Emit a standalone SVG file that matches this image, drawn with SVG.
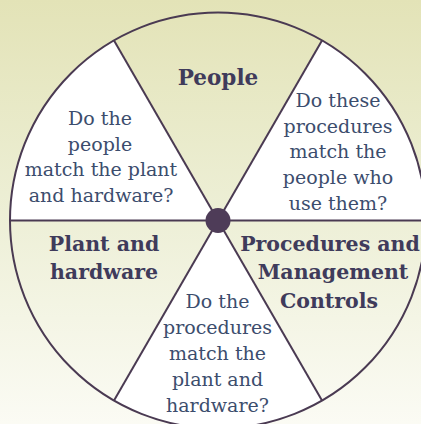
<svg xmlns="http://www.w3.org/2000/svg" width="421" height="424" viewBox="0 0 421 424">
<defs>
<linearGradient id="bg" x1="0" y1="0" x2="0" y2="1">
<stop offset="0" stop-color="#e3e3b7"/>
<stop offset="0.5" stop-color="#edefd6"/>
<stop offset="1" stop-color="#fbfbf4"/>
</linearGradient>
</defs>
<style>
.white{fill:#ffffff;stroke:none}
.rim{fill:none;stroke:#4a3a52;stroke-width:2}
.spoke{stroke:#4a3a52;stroke-width:2;fill:none}
.hub{fill:#4e3c58}
.lbl{font-family:"DejaVu Serif","Liberation Serif",serif;font-weight:bold;font-size:20.5px;fill:#3f3b5b;text-anchor:middle}
.big{font-size:21.5px}
.q{font-family:"DejaVu Serif","Liberation Serif",serif;font-size:19px;fill:#3c4d6d;text-anchor:middle}
</style>
<rect x="0" y="0" width="421" height="424" fill="url(#bg)"/>
<g id="sector-people">
<text class="lbl big" x="218" y="85">People</text>
</g>
<g id="sector-people-plant">
<path class="white" d="M218,220.5 L10,220.5 A208,208 0 0 1 114,40.4 Z"/>
<text class="q" x="100" y="125">Do the</text>
<text class="q" x="100" y="150.7">people</text>
<text class="q" x="101" y="176">match the plant</text>
<text class="q" x="101" y="201.7">and hardware?</text>
</g>
<g id="sector-procedures-people">
<path class="white" d="M218,220.5 L322,40.4 A208,208 0 0 1 426,220.5 Z"/>
<text class="q" x="338" y="106.7">Do these</text>
<text class="q" x="338" y="132.5">procedures</text>
<text class="q" x="338" y="158.3">match the</text>
<text class="q" x="338" y="184.2">people who</text>
<text class="q" x="338" y="210">use them?</text>
</g>
<g id="sector-plant">
<text class="lbl" x="104" y="250.7">Plant and</text>
<text class="lbl" x="104" y="279.3">hardware</text>
</g>
<g id="sector-procedures">
<text class="lbl" x="330" y="250.7">Procedures and</text>
<text class="lbl" x="333" y="279.3">Management</text>
<text class="lbl" x="329" y="307.7">Controls</text>
</g>
<g id="sector-procedures-plant">
<path class="white" d="M218,220.5 L322,400.6 A208,208 0 0 1 114,400.6 Z"/>
<text class="q" x="217.5" y="308.3">Do the</text>
<text class="q" x="217.5" y="334">procedures</text>
<text class="q" x="217.5" y="360">match the</text>
<text class="q" x="217.5" y="386">plant and</text>
<text class="q" x="217.5" y="411.7">hardware?</text>
</g>
<g id="connectors">
<circle class="rim" cx="218" cy="220.5" r="208"/>
<line class="spoke" x1="10" y1="220.5" x2="426" y2="220.5"/>
<line class="spoke" x1="114" y1="40.4" x2="322" y2="400.6"/>
<line class="spoke" x1="322" y1="40.4" x2="114" y2="400.6"/>
</g>
<g id="hub">
<circle class="hub" cx="218" cy="220.5" r="12.5"/>
</g>
</svg>
